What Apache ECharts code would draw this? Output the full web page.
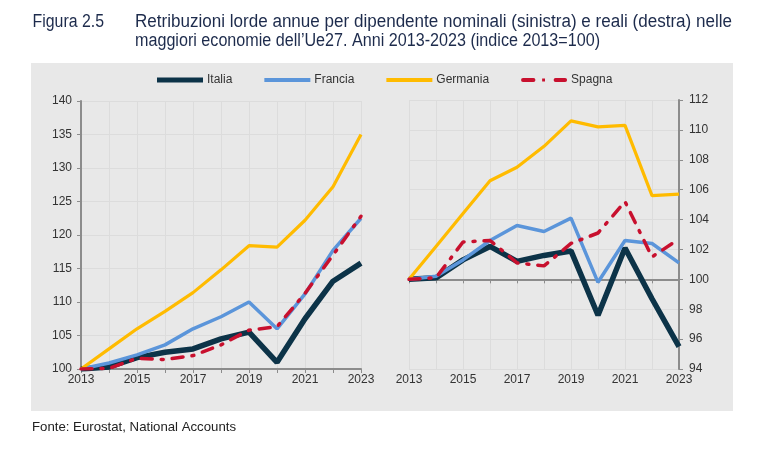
<!DOCTYPE html>
<html>
<head>
<meta charset="utf-8">
<script src="https://cdn.jsdelivr.net/npm/echarts@6/dist/echarts.min.js"></script>
<style>
html,body{margin:0;padding:0;background:#fff;}
#c{width:767px;height:453px;}
</style>
</head>
<body>
<div id="c"></div>
<script>
const years = ['2013','2014','2015','2016','2017','2018','2019','2020','2021','2022','2023'];
const seriesNames = ['Italia','Francia','Germania','Spagna'];
// Nominali (sinistra)
const nomItalia   = [100, 100.3, 101.7, 102.5, 103.0, 104.5, 105.5, 101.0, 107.5, 113.1, 115.8];
const nomFrancia  = [100, 100.9, 102.1, 103.6, 106.0, 107.8, 110.0, 106.0, 111.2, 117.7, 122.5];
const nomGermania = [100, 103.0, 106.0, 108.6, 111.4, 114.8, 118.4, 118.2, 122.2, 127.2, 135.0];
const nomSpagna   = [100, 100.1, 101.6, 101.4, 102.0, 103.6, 105.8, 106.3, 111.3, 117.0, 122.8];
// Reali (destra)
const realItalia   = [100, 100.1, 101.3, 102.2, 101.2, 101.6, 101.9, 97.6, 102.1, 98.7, 95.5];
const realFrancia  = [100, 100.2, 101.3, 102.6, 103.6, 103.2, 104.1, 99.8, 102.6, 102.4, 101.1];
const realGermania = [100, 102.2, 104.4, 106.6, 107.5, 108.9, 110.6, 110.2, 110.3, 105.6, 105.7];
const realSpagna   = [100, 100.1, 102.5, 102.6, 101.1, 100.9, 102.4, 103.1, 105.2, 101.5, 102.7];
const leftTicks = {min:100, max:140, interval:5};
const rightTicks = {min:94, max:112, interval:2};
const baseReal = 100;

const figLabel = 'Figura 2.5';
const titleLine1 = 'Retribuzioni lorde annue per dipendente nominali (sinistra) e reali (destra) nelle';
const titleLine2 = 'maggiori economie dell\u2019Ue27. Anni 2013-2023 (indice 2013=100)';
const sourceText = 'Fonte: Eurostat, National Accounts';

const colors = {Italia:'#0c3348', Francia:'#5b95da', Germania:'#ffbb00', Spagna:'#c8102e'};
const widths = {Italia:5.5, Francia:3.5, Germania:3.2, Spagna:3.5};
const dashes = {Italia:'solid', Francia:'solid', Germania:'solid', Spagna:[11,9,2,9]};
const legendIcons = {
  Italia:'path://M0,0H46V5H0Z',
  Francia:'path://M0,0.5H46V4.5H0Z',
  Germania:'path://M0,0.5H46V4.5H0Z',
  Spagna:'path://M1,0.5H12A2,2 0 0 1 12,4.5H1A2,2 0 0 1 1,0.5Z M21,1H24V4H21Z M35,0.5H45A2,2 0 0 1 45,4.5H35A2,2 0 0 1 35,0.5Z M0,0H0.01V5H0Z M46,0H46.01V5H46Z'
};

const chart = echarts.init(document.getElementById('c'));
const FONT = 'Liberation Sans, Arial, sans-serif';
const axisColor = '#8c8c8c';
const gridColor = '#dcdcdc';
const labelColor = '#333333';
const titleColor = '#1d2b4c';

const measureCtx = document.createElement('canvas').getContext('2d');
function narrowText(text, x, y, size, targetW, color){
  measureCtx.font = size + 'px "Liberation Sans", Arial, sans-serif';
  const w = measureCtx.measureText(text).width;
  return {type:'text', x, y, scaleX: targetW / w, scaleY:1, silent:true, z:10,
    style:{text, fontFamily:'Liberation Sans, Arial, sans-serif', fontSize:size, fill:color,
      align:'left', verticalAlign:'middle', textAlign:'left', textVerticalAlign:'middle'}};
}

const gridR = {left:409, right:88, top:100, bottom:84};
const gridRH = 453 - gridR.top - gridR.bottom;
const baseOffset = -(baseReal - rightTicks.min)/(rightTicks.max - rightTicks.min)*gridRH;

function xAxisBase(gridIndex){
  return {
    type:'category', gridIndex, data:years, boundaryGap:false,
    axisLine:{show:true, lineStyle:{color:axisColor, width:2}},
    axisTick:{show:true, interval:0, length:4, lineStyle:{color:axisColor, width:1}},
    axisLabel:{interval:1, color:labelColor, fontFamily:FONT, fontSize:12, margin:5},
    splitLine:{show:true, interval:0, lineStyle:{color:gridColor, width:1}}
  };
}
const xLeft = xAxisBase(0);
const xRight = xAxisBase(1);
xRight.axisLine = {show:false};
xRight.axisTick = {show:false};
const xRightBase = {
  type:'category', gridIndex:1, data:years, boundaryGap:false, position:'bottom', offset:baseOffset,
  axisLine:{show:true, lineStyle:{color:axisColor, width:2}},
  axisTick:{show:true, interval:0, length:4, lineStyle:{color:axisColor, width:1}},
  axisLabel:{show:false}, splitLine:{show:false}
};

function mkSeries(name, data, xi, yi){
  return {
    name, type:'line', data, xAxisIndex:xi, yAxisIndex:yi,
    symbol:'none', smooth:false,
    lineStyle:{color:colors[name], width:widths[name], type:dashes[name], cap: name==='Spagna'?'round':'butt'},
    itemStyle:{color:colors[name]},
    z: 3 + seriesNames.indexOf(name)
  };
}

const option = {
  animation:false,
  graphic:[
    {type:'rect', shape:{x:31, y:63, width:702, height:348}, style:{fill:'#e8e8e8'}, z:-10, silent:true},
    narrowText(figLabel, 32.5, 22.5, 18, 71.5, titleColor),
    narrowText(titleLine1, 135, 22.5, 18, 597, titleColor),
    narrowText(titleLine2, 135, 41.5, 18, 465, titleColor),
    narrowText(sourceText, 32, 427, 13, 204, '#222222')
  ],
  legend:{
    data:seriesNames.map(n => ({name:n, icon:legendIcons[n], itemStyle:{color:colors[n]}})),
    left:157, top:74, padding:0, itemWidth:46, itemHeight:5, itemGap:32,
    textStyle:{fontFamily:FONT, fontSize:12, color:labelColor, padding:[0,0,0,-1]}
  },
  grid:[
    {left:81, right:406, top:101, bottom:84},
    gridR
  ],
  xAxis:[xLeft, xRight, xRightBase],
  yAxis:[
    {type:'value', gridIndex:0, position:'left', min:leftTicks.min, max:leftTicks.max, interval:leftTicks.interval,
     axisLine:{show:true, lineStyle:{color:axisColor, width:2}},
     axisTick:{show:true, length:4, lineStyle:{color:axisColor}},
     axisLabel:{color:labelColor, fontFamily:FONT, fontSize:12, margin:9},
     splitLine:{show:true, lineStyle:{color:gridColor, width:1}}},
    {type:'value', gridIndex:1, position:'right', min:rightTicks.min, max:rightTicks.max, interval:rightTicks.interval,
     axisLine:{show:true, lineStyle:{color:axisColor, width:2}},
     axisTick:{show:true, length:4, lineStyle:{color:axisColor}},
     axisLabel:{color:labelColor, fontFamily:FONT, fontSize:12, margin:10},
     splitLine:{show:true, lineStyle:{color:gridColor, width:1}}}
  ],
  series:[
    mkSeries('Italia', nomItalia, 0, 0),
    mkSeries('Francia', nomFrancia, 0, 0),
    mkSeries('Germania', nomGermania, 0, 0),
    mkSeries('Spagna', nomSpagna, 0, 0),
    mkSeries('Italia', realItalia, 1, 1),
    mkSeries('Francia', realFrancia, 1, 1),
    mkSeries('Germania', realGermania, 1, 1),
    mkSeries('Spagna', realSpagna, 1, 1)
  ]
};
chart.setOption(option);
</script>
</body>
</html>
